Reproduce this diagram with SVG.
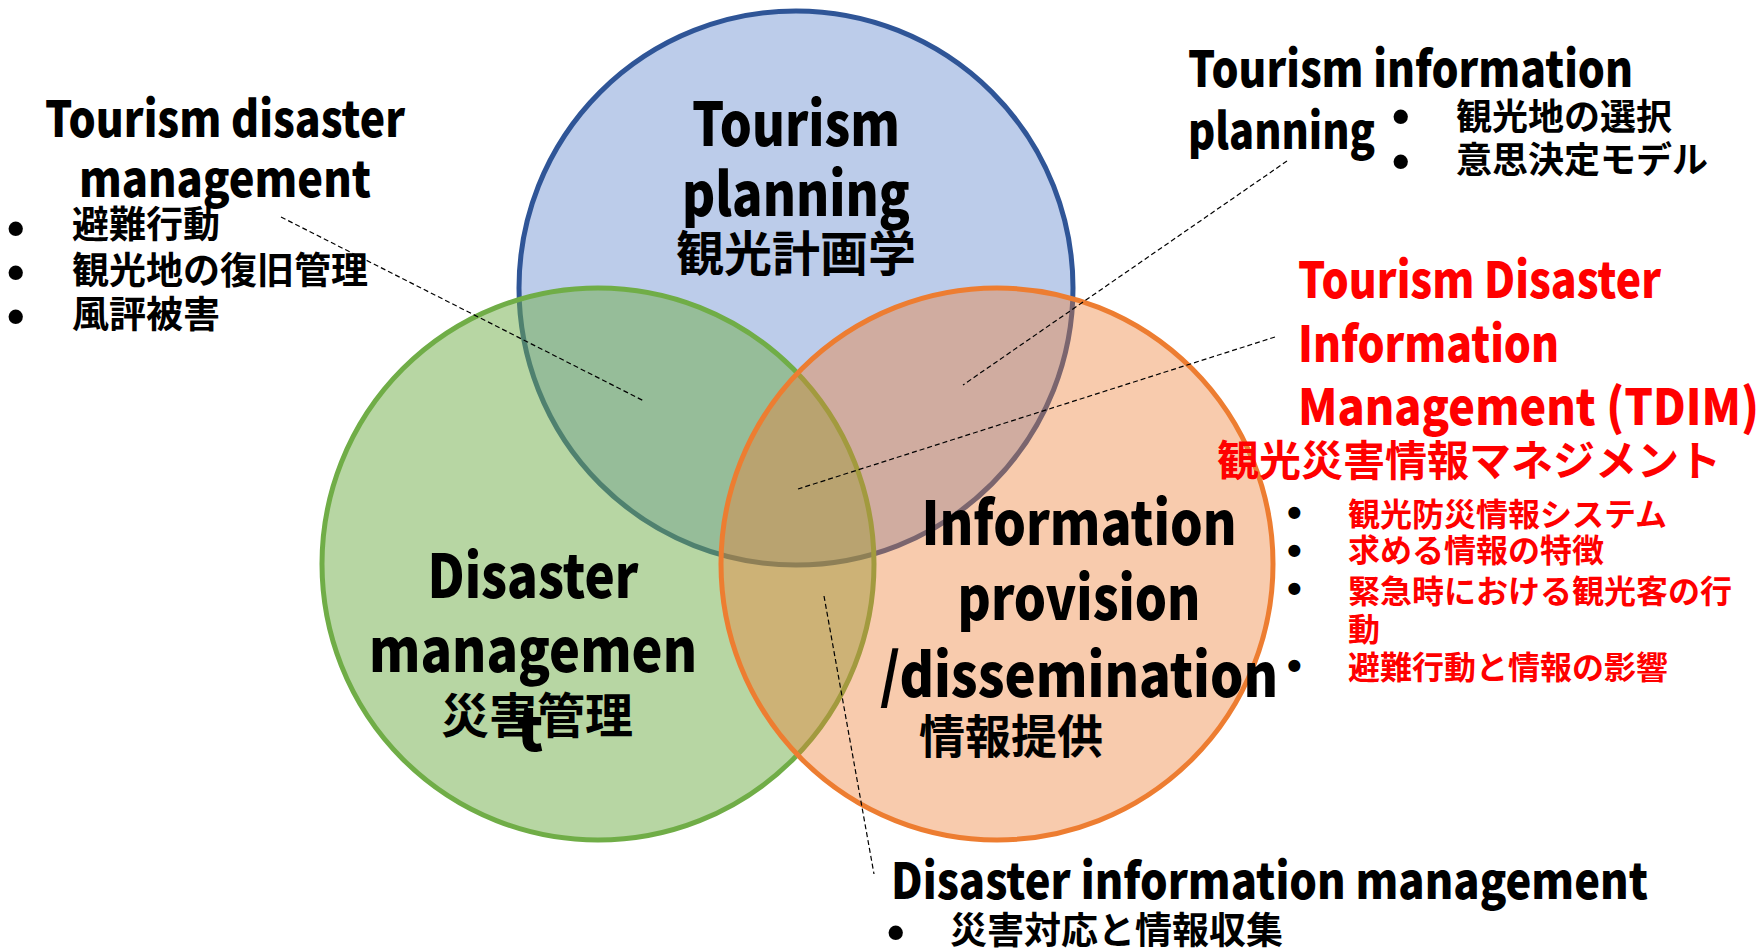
<svg xmlns="http://www.w3.org/2000/svg" width="1762" height="950" viewBox="0 0 1762 950">
<style>
  .t { font-family: "Noto Sans CJK JP", "Noto Sans", sans-serif; font-weight: 900; fill: #000; }
  .j { font-family: "Noto Sans CJK JP", sans-serif; font-weight: bold; fill: #000; }
  .r { fill: #FF0000; }
  .b { font-family: "Liberation Sans", sans-serif; font-weight: bold; fill: #000; font-size: 50px; }
  .rb { font-size: 42px; }
  .c { font-size: 60px; text-anchor: middle; }
  .l { font-size: 50px; }
  .dash { fill: none; stroke: #000; stroke-width: 1.2; stroke-dasharray: 5 3; }
</style>
<rect width="1762" height="950" fill="#FFFFFF"/>
<g id="circle-tourism-planning">
  <circle cx="796" cy="288" r="277" fill="#4472C4" fill-opacity="0.36" stroke="#2F5597" stroke-width="5"/>
</g>
<g id="circle-disaster-management">
  <circle cx="598" cy="564" r="276" fill="#70AD47" fill-opacity="0.5" stroke="#70AD47" stroke-width="5"/>
</g>
<g id="circle-information-provision">
  <circle cx="997" cy="564" r="276" fill="#ED7D31" fill-opacity="0.4" stroke="#ED7D31" stroke-width="5"/>
</g>
<g id="label-tourism-planning">
  <text class="t c" x="796" y="146" textLength="208" lengthAdjust="spacingAndGlyphs">Tourism</text>
  <text class="t c" x="796" y="216" textLength="228" lengthAdjust="spacingAndGlyphs">planning</text>
  <text class="j" x="796" y="271" font-size="48" text-anchor="middle">観光計画学</text>
</g>
<g id="label-disaster-management">
  <text class="t c" x="533" y="598" textLength="211" lengthAdjust="spacingAndGlyphs">Disaster</text>
  <text class="t c" x="533" y="672" textLength="328" lengthAdjust="spacingAndGlyphs">managemen</text>
  <text class="j" x="537" y="733" font-size="48" text-anchor="middle">災害管理</text>
  <text class="t c" x="530" y="751">t</text>
</g>
<g id="label-information-provision">
  <text class="t c" x="1079" y="545" textLength="315" lengthAdjust="spacingAndGlyphs">Information</text>
  <text class="t c" x="1079" y="620" textLength="243" lengthAdjust="spacingAndGlyphs">provision</text>
  <text class="t c" x="1079" y="697" textLength="398" lengthAdjust="spacingAndGlyphs">/dissemination</text>
  <text class="j" x="919" y="753" font-size="46">情報提供</text>
</g>
<g id="note-tourism-disaster-management">
  <text class="t l" x="225" y="137" text-anchor="middle" textLength="360" lengthAdjust="spacingAndGlyphs">Tourism disaster</text>
  <text class="t l" x="225" y="197" text-anchor="middle" textLength="292" lengthAdjust="spacingAndGlyphs">management</text>
  <text class="b" x="7" y="245">•</text>
  <text class="b" x="7" y="289">•</text>
  <text class="b" x="7" y="333">•</text>
  <text class="j" x="72" y="238" font-size="37">避難行動</text>
  <text class="j" x="72" y="284" font-size="37">観光地の復旧管理</text>
  <text class="j" x="72" y="328" font-size="37">風評被害</text>
</g>
<g id="note-tourism-information-planning">
  <text class="t l" x="1188" y="87" textLength="445" lengthAdjust="spacingAndGlyphs">Tourism information</text>
  <text class="t l" x="1188" y="149" textLength="187" lengthAdjust="spacingAndGlyphs">planning</text>
  <text class="b" x="1392" y="133">•</text>
  <text class="b" x="1392" y="178">•</text>
  <text class="j" x="1456" y="130" font-size="36">観光地の選択</text>
  <text class="j" x="1456" y="173" font-size="36">意思決定モデル</text>
</g>
<g id="note-tdim">
  <text class="t l r" x="1298" y="298" textLength="363" lengthAdjust="spacingAndGlyphs">Tourism Disaster</text>
  <text class="t l r" x="1298" y="362" textLength="261" lengthAdjust="spacingAndGlyphs">Information</text>
  <text class="t l r" x="1298" y="425" textLength="461" lengthAdjust="spacingAndGlyphs">Management (TDIM)</text>
  <text class="j r" x="1217" y="476" font-size="42">観光災害情報マネジメント</text>
  <text class="b r rb" x="1287" y="527">•</text>
  <text class="b r rb" x="1287" y="565">•</text>
  <text class="b r rb" x="1287" y="603">•</text>
  <text class="b r rb" x="1287" y="680">•</text>
  <text class="j r" x="1348" y="526" font-size="32">観光防災情報システム</text>
  <text class="j r" x="1348" y="562" font-size="32">求める情報の特徴</text>
  <text class="j r" x="1348" y="603" font-size="32">緊急時における観光客の行</text>
  <text class="j r" x="1348" y="641" font-size="32">動</text>
  <text class="j r" x="1348" y="679" font-size="32">避難行動と情報の影響</text>
</g>
<g id="note-disaster-information-management">
  <text class="t l" x="891" y="899" textLength="757" lengthAdjust="spacingAndGlyphs">Disaster information management</text>
  <text class="b" x="887" y="949">•</text>
  <text class="j" x="950" y="944" font-size="37">災害対応と情報収集</text>
</g>
<g id="connectors">
  <line class="dash" x1="281" y1="217" x2="644" y2="401"/>
  <line class="dash" x1="1287" y1="161" x2="963" y2="385"/>
  <line class="dash" x1="1275" y1="337" x2="798" y2="489"/>
  <line class="dash" x1="824" y1="596" x2="874" y2="874"/>
</g>
</svg>
